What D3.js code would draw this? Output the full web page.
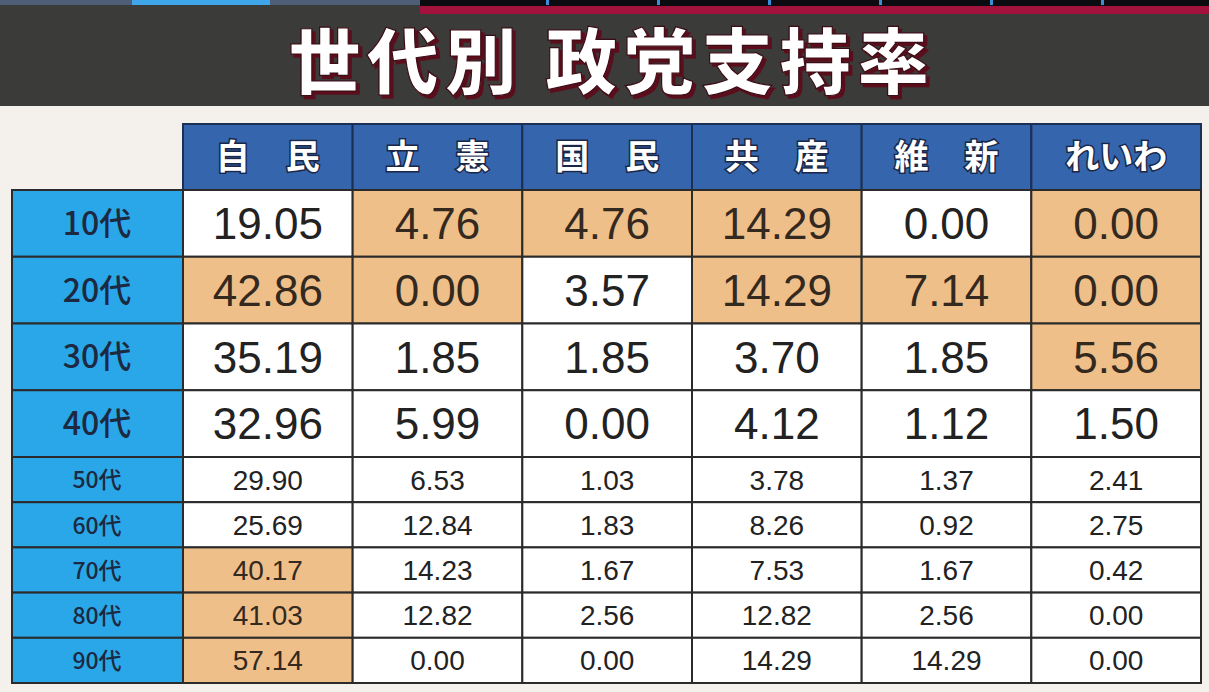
<!DOCTYPE html>
<html>
<head>
<meta charset="utf-8">
<script src="https://cdn.jsdelivr.net/npm/d3@7"></script>
<style>
  body { margin: 0; background: #f4f1ec; overflow: hidden; }
  svg { display: block; }
</style>
</head>
<body>
<div id="chart"></div>
<script>
// data
var title = "世代別 政党支持率";
var parties = ["自民", "立憲", "国民", "共産", "維新", "れいわ"];
var ages = ["10代", "20代", "30代", "40代", "50代", "60代", "70代", "80代", "90代"];

var jimin   = [19.05, 42.86, 35.19, 32.96, 29.90, 25.69, 40.17, 41.03, 57.14];
var rikken  = [4.76, 0.00, 1.85, 5.99, 6.53, 12.84, 14.23, 12.82, 0.00];
var kokumin = [4.76, 3.57, 1.85, 0.00, 1.03, 1.83, 1.67, 2.56, 0.00];
var kyosan  = [14.29, 14.29, 3.70, 4.12, 3.78, 8.26, 7.53, 12.82, 14.29];
var ishin   = [0.00, 7.14, 1.85, 1.12, 1.37, 0.92, 1.67, 2.56, 14.29];
var reiwa   = [0.00, 0.00, 5.56, 1.50, 2.41, 2.75, 0.42, 0.00, 0.00];

// highlighted (tan) cells, per party, per age group
var markJimin   = [0, 1, 0, 0, 0, 0, 1, 1, 1];
var markRikken  = [1, 1, 0, 0, 0, 0, 0, 0, 0];
var markKokumin = [1, 0, 0, 0, 0, 0, 0, 0, 0];
var markKyosan  = [1, 1, 0, 0, 0, 0, 0, 0, 0];
var markIshin   = [0, 1, 0, 0, 0, 0, 0, 0, 0];
var markReiwa   = [1, 1, 1, 0, 0, 0, 0, 0, 0];

var series = [jimin, rikken, kokumin, kyosan, ishin, reiwa];
var marks = [markJimin, markRikken, markKokumin, markKyosan, markIshin, markReiwa];

var width = 1209, height = 692;

var svg = d3.select("#chart").append("svg")
  .attr("width", width)
  .attr("height", height);

// shadow for the title
var defs = svg.append("defs");
var shadow = defs.append("filter").attr("id", "titleShadow")
  .attr("x", "-5%").attr("y", "-20%").attr("width", "110%").attr("height", "140%");
shadow.append("feDropShadow")
  .attr("dx", 3).attr("dy", 3).attr("stdDeviation", 0.6)
  .attr("flood-color", "#5c0d1c").attr("flood-opacity", 1);

// background and title band
svg.append("rect").attr("width", width).attr("height", height).attr("fill", "#f4f1ec");
svg.append("rect").attr("width", width).attr("height", 106).attr("fill", "#3b3b39");
svg.append("rect").attr("width", 420).attr("height", 5).attr("fill", "#4d5e76");
svg.append("rect").attr("x", 132).attr("width", 138).attr("height", 5).attr("fill", "#3fa6ea");
svg.append("rect").attr("x", 420).attr("width", width - 420).attr("height", 6).attr("fill", "#0c0c10");
svg.append("rect").attr("x", 420).attr("y", 6).attr("width", width - 420).attr("height", 8).attr("fill", "#a3123c");
d3.range(6).forEach(function(i) {
  svg.append("rect").attr("x", 546 + i * 111).attr("width", 3).attr("height", 5).attr("fill", "#3b8fd8");
});

var titleFont = "'Noto Sans CJK JP', sans-serif";
svg.append("text")
  .attr("x", 612).attr("y", 88)
  .attr("text-anchor", "middle")
  .attr("font-family", titleFont)
  .attr("font-weight", 900)
  .attr("font-size", 72)
  .attr("letter-spacing", 6)
  .attr("fill", "#ffffff")
  .attr("stroke", "#3a0a14").attr("stroke-width", 1.2)
  .attr("filter", "url(#titleShadow)")
  .text(title);

// scales
var x = d3.scaleBand().domain(parties).range([183, 1201]);
var yBig = d3.scaleBand().domain(ages.slice(0, 4)).range([190, 457]);
var ySmall = d3.scaleBand().domain(ages.slice(4)).range([457, 683]);
function yOf(a) { return ages.indexOf(a) < 4 ? yBig(a) : ySmall(a); }
function hOf(a) { return ages.indexOf(a) < 4 ? yBig.bandwidth() : ySmall.bandwidth(); }
function isBig(a) { return ages.indexOf(a) < 4; }

var lineColor = "#2b2b2b";

// header row
var header = svg.append("g");
header.selectAll("rect").data(parties).enter().append("rect")
  .attr("x", d => x(d)).attr("y", 124)
  .attr("width", x.bandwidth()).attr("height", 66)
  .attr("fill", "#3566ad")
  .attr("stroke", "#1c2f55").attr("stroke-width", 2);

parties.forEach(function(p) {
  var chars = p.split("");
  var step = chars.length == 2 ? 70 : 34;
  chars.forEach(function(c, i) {
    header.append("text")
      .attr("x", x(p) + x.bandwidth() / 2 + (i - (chars.length - 1) / 2) * step)
      .attr("y", 169)
      .attr("text-anchor", "middle")
      .attr("font-family", titleFont)
      .attr("font-weight", 700)
      .attr("font-size", 34)
      .attr("fill", "#ffffff")
      .attr("stroke", "#1a2748").attr("stroke-width", 3)
      .attr("paint-order", "stroke")
      .text(c);
  });
});

// age label column
var labels = svg.append("g");
labels.selectAll("rect").data(ages).enter().append("rect")
  .attr("x", 12).attr("y", d => yOf(d))
  .attr("width", 171).attr("height", d => hOf(d))
  .attr("fill", "#2aa7e8")
  .attr("stroke", lineColor).attr("stroke-width", 2);
labels.selectAll("text").data(ages).enter().append("text")
  .attr("x", 97)
  .attr("y", d => yOf(d) + hOf(d) / 2)
  .attr("dy", d => isBig(d) ? "0.36em" : "0.38em")
  .attr("text-anchor", "middle")
  .attr("font-family", titleFont)
  .attr("font-weight", 500)
  .attr("font-size", d => isBig(d) ? 32 : 23)
  .attr("fill", "#1c2940")
  .text(d => d);

// value cells
var cells = [];
parties.forEach(function(p, j) {
  ages.forEach(function(a, i) {
    cells.push({ party: p, age: a, value: series[j][i], mark: marks[j][i] });
  });
});

var grid = svg.append("g");
grid.selectAll("rect").data(cells).enter().append("rect")
  .attr("x", d => x(d.party)).attr("y", d => yOf(d.age))
  .attr("width", x.bandwidth()).attr("height", d => hOf(d.age))
  .attr("fill", d => d.mark ? "#efbf8a" : "#ffffff")
  .attr("stroke", lineColor).attr("stroke-width", 2);

grid.selectAll("text").data(cells).enter().append("text")
  .attr("x", d => x(d.party) + x.bandwidth() / 2)
  .attr("y", d => yOf(d.age) + hOf(d.age) / 2)
  .attr("dy", "0.36em")
  .attr("text-anchor", "middle")
  .attr("font-family", "'Liberation Sans', Arial, sans-serif")
  .attr("font-size", d => isBig(d.age) ? 44 : 28)
  .attr("fill", d => d.mark ? "#33291e" : "#222222")
  .text(d => d3.format(".2f")(d.value));
</script>
</body>
</html>
